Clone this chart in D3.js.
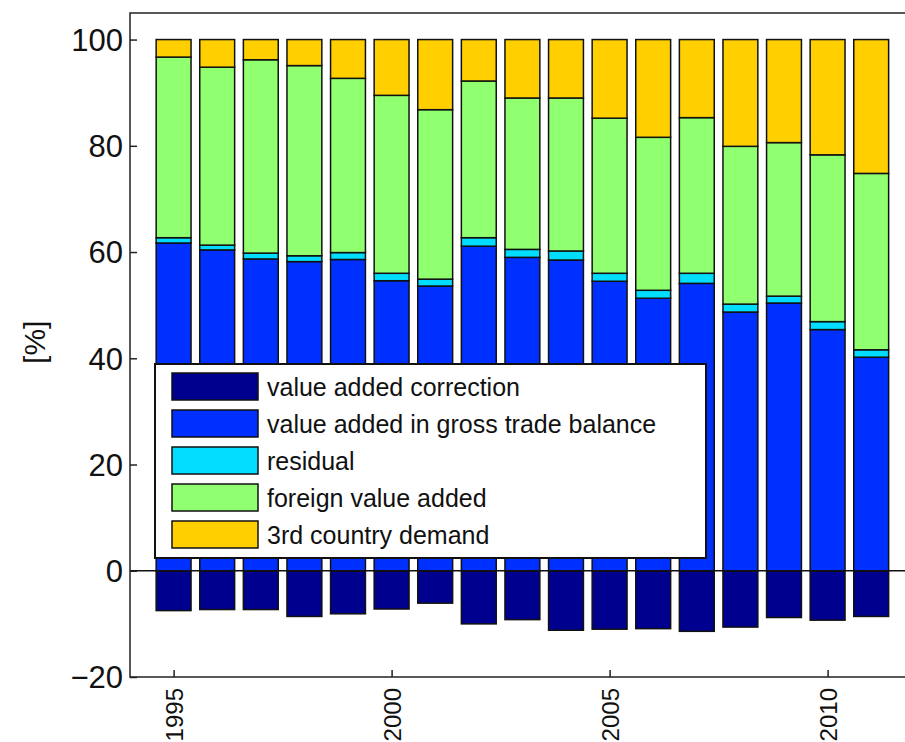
<!DOCTYPE html>
<html>
<head>
<meta charset="utf-8">
<script src="https://cdn.jsdelivr.net/npm/d3@7"></script>
<style>
    body { margin: 0; background: #fff; }
    text { font-family: "Liberation Sans", Arial, sans-serif; fill: #111; }
</style>
</head>
<body>
<div id="chart"></div>
<script>
// data
let years = [1995, 1996, 1997, 1998, 1999, 2000, 2001, 2002, 2003, 2004, 2005, 2006, 2007, 2008, 2009, 2010, 2011];
let vaCorrection = [-7.5, -7.3, -7.3, -8.6, -8.1, -7.2, -6.1, -10.0, -9.2, -11.2, -11.0, -10.9, -11.4, -10.6, -8.8, -9.3, -8.6];
let vaGrossTrade = [61.7, 60.4, 58.7, 58.2, 58.6, 54.6, 53.6, 61.1, 59.0, 58.5, 54.5, 51.3, 54.1, 48.7, 50.4, 45.4, 40.2];
let residual = [1.0, 0.9, 1.1, 1.1, 1.3, 1.4, 1.3, 1.6, 1.5, 1.7, 1.5, 1.5, 1.9, 1.5, 1.3, 1.5, 1.4];
let foreignVA = [34.0, 33.5, 36.4, 35.8, 32.8, 33.5, 31.9, 29.5, 28.5, 28.8, 29.2, 28.8, 29.3, 29.7, 28.9, 31.4, 33.2];
let thirdDemand = [3.3, 5.2, 3.8, 4.9, 7.3, 10.5, 13.2, 7.8, 11.0, 11.0, 14.8, 18.4, 14.7, 20.1, 19.4, 21.7, 25.2];

let seriesNames = ["value added correction", "value added in gross trade balance", "residual", "foreign value added", "3rd country demand"];
let seriesColors = ["#00008f", "#0030ff", "#00ddff", "#90ff70", "#ffcf00"];
let xTicks = [1995, 2000, 2005, 2010];
let yTicks = [-20, 0, 20, 40, 60, 80, 100];

let margin = {top: 13, left: 130, bottom: 65};
let W = 905, H = 742;

let svg = d3.select("#chart").append("svg")
    .attr("width", W)
    .attr("height", H);

// scales (x domain runs past the right edge of the picture)
let x = d3.scaleLinear().domain([1994, 2012]).range([margin.left, margin.left + 18 * 43.6]);
let y = d3.scaleLinear().domain([-20, 105]).range([H - margin.bottom, margin.top]);
let barW = 0.8 * (x(1996) - x(1995));

// build stacked table for the positive parts
let table = years.map((yr, i) => ({
    year: yr,
    gross: vaGrossTrade[i],
    resid: residual[i],
    foreign: foreignVA[i],
    third: thirdDemand[i]
}));
let keys = ["gross", "resid", "foreign", "third"];
let stacked = d3.stack().keys(keys)(table);

let barsG = svg.append("g").attr("class", "bars");

// negative correction bars
barsG.selectAll("rect.corr")
    .data(years)
    .enter().append("rect")
    .attr("class", "corr")
    .attr("x", d => x(d) - barW / 2)
    .attr("y", y(0))
    .attr("width", barW)
    .attr("height", (d, i) => y(vaCorrection[i]) - y(0))
    .attr("fill", seriesColors[0])
    .attr("stroke", "#111")
    .attr("stroke-width", 1.5);

stacked.forEach((layer, k) => {
    barsG.selectAll("rect.s" + k)
        .data(layer)
        .enter().append("rect")
        .attr("class", "s" + k)
        .attr("x", d => x(d.data.year) - barW / 2)
        .attr("y", d => y(d[1]))
        .attr("width", barW)
        .attr("height", d => y(d[0]) - y(d[1]))
        .attr("fill", seriesColors[k + 1])
        .attr("stroke", "#111")
        .attr("stroke-width", 1.5);
});

// zero line
svg.append("line")
    .attr("x1", x(1994)).attr("x2", x(2012))
    .attr("y1", y(0)).attr("y2", y(0))
    .attr("stroke", "#111").attr("stroke-width", 1.5);

// axes box
svg.append("rect")
    .attr("x", x(1994)).attr("y", y(105))
    .attr("width", x(2012) - x(1994))
    .attr("height", y(-20) - y(105))
    .attr("fill", "none")
    .attr("stroke", "#222")
    .attr("stroke-width", 1.5);

// y axis (ticks inward)
let yAxis = svg.append("g")
    .attr("transform", "translate(" + x(1994) + ",0)")
    .call(d3.axisRight(y).tickValues(yTicks).tickSize(7).tickFormat(d => d < 0 ? "\u2212" + Math.abs(d) : d));
yAxis.select(".domain").remove();
yAxis.selectAll("line").attr("stroke", "#222").attr("stroke-width", 1.5);
yAxis.selectAll("text")
    .attr("x", -7)
    .attr("text-anchor", "end")
    .attr("dy", "0.35em")
    .style("font-size", "31px")
    .style("font-family", "'Liberation Sans', Arial, sans-serif")
    .attr("fill", "#111");

// x axis (ticks inward, labels rotated)
let xAxis = svg.append("g")
    .attr("transform", "translate(0," + y(-20) + ")")
    .call(d3.axisTop(x).tickValues(xTicks).tickSize(7).tickFormat(d3.format("d")));
xAxis.select(".domain").remove();
xAxis.selectAll("line").attr("stroke", "#222").attr("stroke-width", 1.5);
xAxis.selectAll("text")
    .attr("transform", "rotate(-90)")
    .attr("x", -11)
    .attr("y", 0)
    .attr("dy", "0.35em")
    .attr("text-anchor", "end")
    .style("font-size", "24px")
    .style("font-family", "'Liberation Sans', Arial, sans-serif")
    .attr("fill", "#111");

// y label
svg.append("text")
    .attr("transform", "translate(45," + (y(40) - 16) + ") rotate(-90)")
    .attr("text-anchor", "middle")
    .style("font-size", "30px")
    .text("[%]");

// legend
let lg = svg.append("g").attr("transform", "translate(155,364)");
lg.append("rect")
    .attr("width", 551).attr("height", 194)
    .attr("fill", "#fff")
    .attr("stroke", "#111")
    .attr("stroke-width", 2);
let rows = lg.selectAll("g.row")
    .data(seriesNames)
    .enter().append("g")
    .attr("class", "row")
    .attr("transform", (d, i) => "translate(17," + (9 + i * 37) + ")");
rows.append("rect")
    .attr("width", 86).attr("height", 27)
    .attr("fill", (d, i) => seriesColors[i])
    .attr("stroke", "#111")
    .attr("stroke-width", 1.5);
rows.append("text")
    .attr("x", 95)
    .attr("y", 14)
    .attr("dy", "0.35em")
    .style("font-size", "25px")
    .text(d => d);
</script>
</body>
</html>
